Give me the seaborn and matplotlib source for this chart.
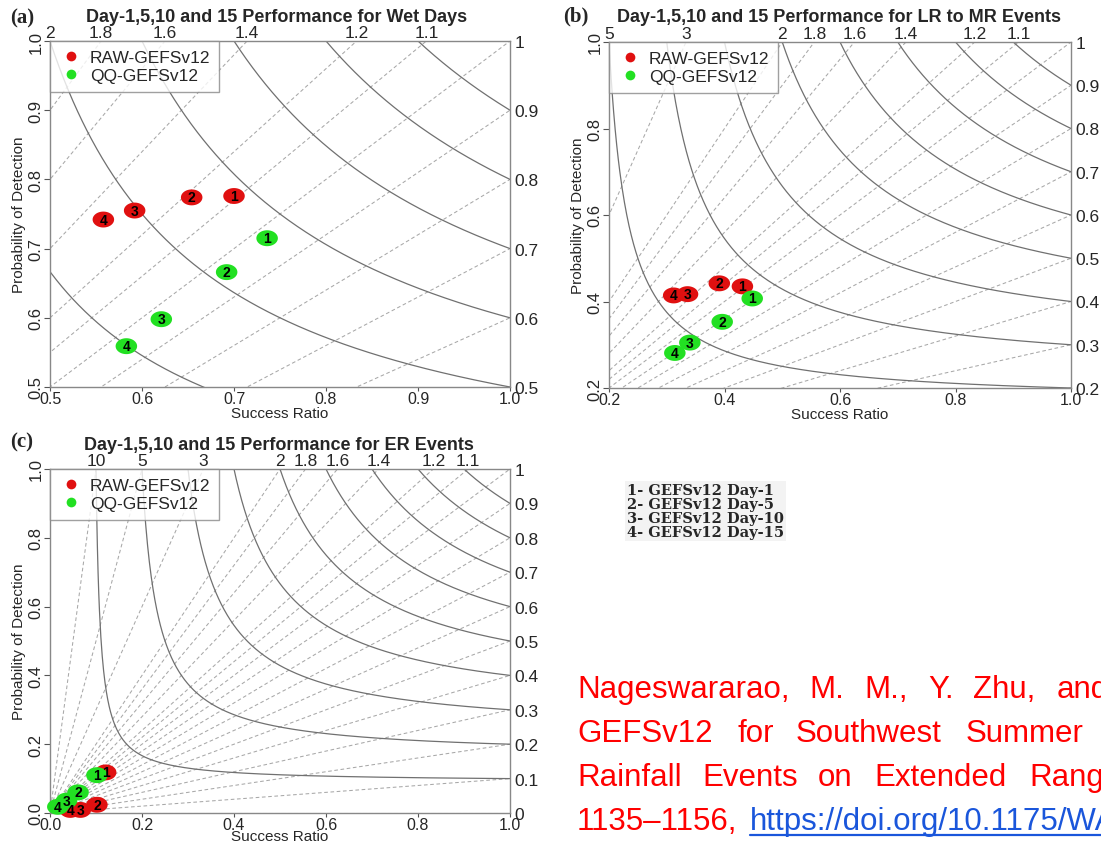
import numpy as np
import pandas as pd
import matplotlib
matplotlib.use("Agg")
import matplotlib.pyplot as plt
from matplotlib.lines import Line2D
import seaborn as sns

# ---------------- data ----------------
day_labels = ["1", "2", "3", "4"]

a_raw_sr = [0.700, 0.654, 0.592, 0.558]
a_raw_pod = [0.776, 0.774, 0.755, 0.742]
a_qq_sr = [0.736, 0.692, 0.621, 0.583]
a_qq_pod = [0.715, 0.666, 0.598, 0.559]

b_raw_sr = [0.431, 0.391, 0.336, 0.312]
b_raw_pod = [0.435, 0.442, 0.417, 0.414]
b_qq_sr = [0.448, 0.396, 0.340, 0.314]
b_qq_pod = [0.407, 0.353, 0.305, 0.281]

c_raw_sr = [0.121, 0.102, 0.066, 0.044]
c_raw_pod = [0.118, 0.024, 0.009, 0.009]
c_qq_sr = [0.102, 0.061, 0.036, 0.017]
c_qq_pod = [0.110, 0.060, 0.036, 0.018]

bias_levels = [0, 0.1, 0.2, 0.3, 0.4, 0.5, 0.6, 0.7, 0.8, 0.9, 1.0,
               1.1, 1.2, 1.4, 1.6, 1.8, 2, 3, 5, 10]
csi_levels = [0.1, 0.2, 0.3, 0.4, 0.5, 0.6, 0.7, 0.8, 0.9]

a_top_bias = [2, 1.8, 1.6, 1.4, 1.2, 1.1]
b_top_bias = [5, 3, 2, 1.8, 1.6, 1.4, 1.2, 1.1]
c_top_bias = [10, 5, 3, 2, 1.8, 1.6, 1.4, 1.2, 1.1]
a_right_bias = [1, 0.9, 0.8, 0.7, 0.6, 0.5]
b_right_bias = [1, 0.9, 0.8, 0.7, 0.6, 0.5, 0.4, 0.3, 0.2]
c_right_bias = [1, 0.9, 0.8, 0.7, 0.6, 0.5, 0.4, 0.3, 0.2, 0.1, 0]

a_ticks = [0.5, 0.6, 0.7, 0.8, 0.9, 1.0]
b_ticks = [0.2, 0.4, 0.6, 0.8, 1.0]
c_ticks = [0.0, 0.2, 0.4, 0.6, 0.8, 1.0]

series_names = ["RAW-GEFSv12", "QQ-GEFSv12"]
titles = ["Day-1,5,10 and 15 Performance for Wet Days",
          "Day-1,5,10 and 15 Performance for LR to MR Events",
          "Day-1,5,10 and 15 Performance for ER Events"]
key_lines = ["1- GEFSv12 Day-1", "2- GEFSv12 Day-5",
             "3- GEFSv12 Day-10", "4- GEFSv12 Day-15"]

# ---------------- style ----------------
sns.set_theme(style="white")
plt.rcParams["font.family"] = ["Liberation Sans", "DejaVu Sans"]
RED = "#e01010"
GREEN = "#22e022"
palette = {series_names[0]: RED, series_names[1]: GREEN}
t = np.linspace(0, 2 * np.pi, 60)
ellipse = np.column_stack([np.cos(t), 0.74 * np.sin(t)])

fig = plt.figure(figsize=(11.01, 8.45), dpi=100)
W, H = 1101.0, 845.0


def px_axes(l, r, top, bot):
    return fig.add_axes([l / W, 1 - bot / H, (r - l) / W, (bot - top) / H])


def draw_panel(ax, lo, ticks, top_bias, right_bias, raw, qq, title, letter,
               tpos, lpos, xlab_off):
    ax.set_xlim(lo, 1.0)
    ax.set_ylim(lo, 1.0)
    sr = np.linspace(0.0, 1.0, 400)
    for b in bias_levels:
        ax.plot(sr, b * sr, ls=(0, (3.5, 2.5)), color="#a8a8a8", lw=0.75, zorder=1)
    for c in csi_levels:
        s = np.linspace(c, 1.0, 600)
        pod = 1.0 / (1.0 / c - 1.0 / s + 1.0)
        ax.plot(s, pod, color="#707070", lw=0.9, zorder=1)

    df = pd.DataFrame({
        "sr": list(raw[0]) + list(qq[0]),
        "pod": list(raw[1]) + list(qq[1]),
        "series": [series_names[0]] * 4 + [series_names[1]] * 4,
        "lab": day_labels * 2,
    })
    sns.scatterplot(data=df, x="sr", y="pod", hue="series", palette=palette,
                    marker=ellipse, s=240, edgecolor="none", legend=False,
                    ax=ax, zorder=3, clip_on=False)
    for _, r in df.iterrows():
        ax.text(r["sr"], r["pod"], r["lab"], ha="center", va="center",
                fontsize=10, fontweight="bold", color="black", zorder=5,
                clip_on=False)

    ax.set_xticks(ticks)
    ax.set_yticks(ticks)
    ax.set_xticklabels([f"{v:.1f}" for v in ticks], fontsize=11.5)
    ax.set_yticklabels([f"{v:.1f}" for v in ticks], fontsize=12,
                       rotation=90, va="center")
    ax.tick_params(axis="both", which="both", width=0.8,
                   color="#555555", bottom=True, left=True)
    ax.tick_params(axis="x", length=3, pad=0)
    ax.tick_params(axis="y", length=4, pad=0.5)
    ax.set_xlabel("Success Ratio", fontsize=11)
    ax.xaxis.label.set_verticalalignment("center")
    ax.xaxis.set_label_coords(0.5, -xlab_off / 346.0)
    ax.set_ylabel("Probability of Detection", fontsize=11, labelpad=2)
    for sp in ax.spines.values():
        sp.set_color("#888888")
        sp.set_linewidth(1.0)

    axt = ax.twiny()
    axt.set_xlim(lo, 1.0)
    axt.set_xticks([1.0 / b for b in top_bias])
    axt.set_xticklabels([f"{b:g}" for b in top_bias], fontsize=12.5)
    axt.tick_params(axis="x", length=0, pad=1)
    axr = ax.twinx()
    axr.set_ylim(lo, 1.0)
    axr.set_yticks(right_bias)
    axr.set_yticklabels([f"{b:g}" for b in right_bias], fontsize=12.5)
    axr.tick_params(axis="y", length=0, pad=3)
    for a2 in (axt, axr):
        for sp in a2.spines.values():
            sp.set_visible(False)
        a2.grid(False)

    handles = [Line2D([], [], ls="none", marker="o", markersize=7,
                      markerfacecolor=palette[n], markeredgecolor="none")
               for n in series_names]
    leg = axr.legend(handles, series_names, loc="upper left",
                     bbox_to_anchor=(0, 1), borderaxespad=0, frameon=True,
                     fancybox=False, edgecolor="#888888", fontsize=12.5,
                     handletextpad=0.4, labelspacing=0.2, borderpad=0.5,
                     handlelength=1.4)
    leg.get_frame().set_linewidth(1.0)
    leg.set_zorder(10)

    fig.text(tpos[0] / W, 1 - tpos[1] / H, title, ha="center", va="center",
             fontsize=13, fontweight="bold")
    fig.text(lpos[0] / W, 1 - lpos[1] / H, letter, ha="left", va="center",
             fontsize=15, fontweight="bold",
             family=["Liberation Serif", "DejaVu Serif"])


ax_a = px_axes(50, 510, 42, 388)
draw_panel(ax_a, 0.5, a_ticks, a_top_bias, a_right_bias,
           (a_raw_sr, a_raw_pod), (a_qq_sr, a_qq_pod), titles[0], "(a)",
           (277, 18), (10, 18), 26)

ax_b = px_axes(609, 1071, 43, 389)
draw_panel(ax_b, 0.2, b_ticks, b_top_bias, b_right_bias,
           (b_raw_sr, b_raw_pod), (b_qq_sr, b_qq_pod), titles[1], "(b)",
           (839, 17), (563, 16), 26)

ax_c = px_axes(50, 510, 470, 814)
draw_panel(ax_c, 0.0, c_ticks, c_top_bias, c_right_bias,
           (c_raw_sr, c_raw_pod), (c_qq_sr, c_qq_pod), titles[2], "(c)",
           (279, 446), (10, 442), 23)

# key to the numbers
fig.text(627 / W, 1 - 484 / H, "\n".join(key_lines), ha="left", va="top",
         fontsize=10.5, fontweight="bold", linespacing=1.0,
         family=["DejaVu Serif", "Liberation Serif"],
         bbox=dict(facecolor="#f3f3f3", edgecolor="none", pad=1.5))

# citation text (clipped by the figure edge, as in the reference)
cite_lines = [
    (690, [("Nageswararao,", 577), ("M.", 809), ("M.,", 864), ("Y.", 928),
           ("Zhu,", 973), ("and", 1057)]),
    (734, [("GEFSv12", 577), ("for", 737), ("Southwest", 796), ("Summer", 966)]),
    (778, [("Rainfall", 577), ("Events", 702), ("on", 818), ("Extended", 874),
           ("Range", 1029)]),
]
for yy, words in cite_lines:
    for w_, xx in words:
        fig.text(xx / W, 1 - yy / H, w_, ha="left", va="center",
                 fontsize=22.5, color="#ff0000")
fig.text(577 / W, 1 - 822 / H, "1135\u20131156,", ha="left", va="center",
         fontsize=22.5, color="#ff0000")
fig.text(750 / W, 1 - 822 / H, "https://doi.org/10.1175/WAF-D-21-0184.1",
         ha="left", va="center", fontsize=22.5, color="#1a56db")
fig.add_artist(Line2D([750 / W, 1.0], [1 - 836 / H, 1 - 836 / H],
                      color="#1a56db", lw=1.6))

fig.savefig("out.png", dpi=100)
